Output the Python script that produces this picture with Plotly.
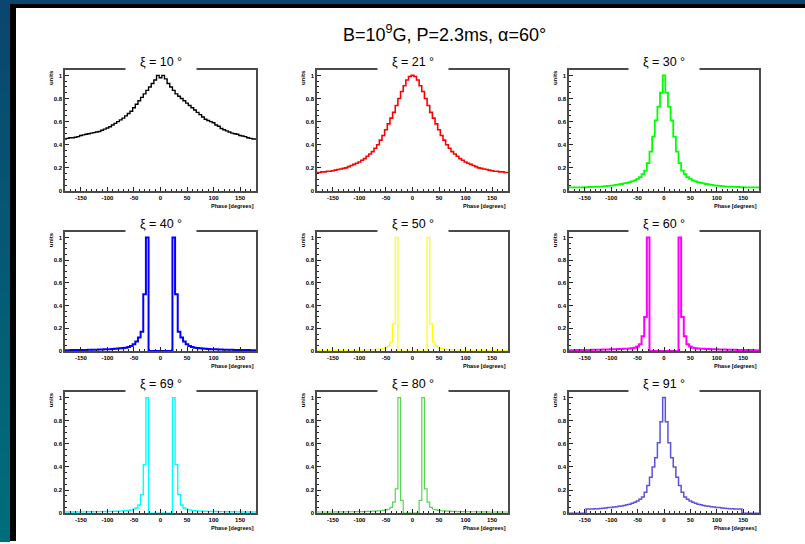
import plotly.graph_objects as go

W, H = 805, 544

# 73 phase bins, 5 degrees wide, centred on multiples of 5 degrees
PHASE_MIN, BIN_WIDTH = -182.5, 5.0

xi_labels = ["10", "21", "30", "40", "50", "60", "69", "80", "91"]
line_colors = ["#000000", "#ff0000", "#00ff00", "#0000ff", "#ffff00",
               "#ff00ff", "#00ffff", "#59d454", "#5954d8"]
line_widths = [1.4, 1.6, 1.8, 2.0, 1.2, 2.0, 1.4, 1.2, 1.5]

# normalised pulse profiles, bins from -180 to 180 deg
xi10 = [0.45, 0.455, 0.46, 0.46, 0.465, 0.47, 0.48, 0.485, 0.49, 0.495, 0.50, 0.505,
        0.51, 0.515, 0.525, 0.535, 0.545, 0.555, 0.57, 0.585, 0.60, 0.615, 0.63, 0.65,
        0.67, 0.69, 0.72, 0.75, 0.78, 0.81, 0.84, 0.87, 0.90, 0.93, 0.96, 1.0,
        0.98,
        1.0, 0.97, 0.93, 0.90, 0.87, 0.84, 0.82, 0.80, 0.78, 0.76, 0.74, 0.72,
        0.70, 0.68, 0.66, 0.64, 0.62, 0.61, 0.60, 0.59, 0.57, 0.56, 0.54, 0.53,
        0.52, 0.51, 0.50, 0.495, 0.49, 0.48, 0.475, 0.47, 0.46, 0.455, 0.45, 0.45]

xi21 = [0.16, 0.16, 0.165, 0.165, 0.17, 0.17, 0.175, 0.18, 0.185, 0.19, 0.195, 0.20,
        0.21, 0.22, 0.23, 0.24, 0.25, 0.265, 0.28, 0.30, 0.32, 0.34, 0.37, 0.40,
        0.44, 0.48, 0.53, 0.58, 0.63, 0.68, 0.74, 0.80, 0.86, 0.91, 0.96, 0.99,
        1.0,
        0.99, 0.96, 0.91, 0.86, 0.80, 0.74, 0.68, 0.63, 0.58, 0.53, 0.48, 0.44,
        0.40, 0.37, 0.34, 0.32, 0.30, 0.28, 0.265, 0.25, 0.24, 0.23, 0.22, 0.21,
        0.20, 0.195, 0.19, 0.185, 0.18, 0.175, 0.17, 0.17, 0.165, 0.165, 0.16, 0.16]

xi30 = [0.03, 0.03, 0.03, 0.03, 0.03, 0.03, 0.032, 0.033, 0.034, 0.035, 0.036, 0.037,
        0.038, 0.04, 0.042, 0.044, 0.046, 0.049, 0.052, 0.056, 0.06, 0.065, 0.07, 0.076,
        0.083, 0.092, 0.105, 0.12, 0.145, 0.175, 0.24, 0.34, 0.47, 0.61, 0.73, 0.85,
        1.0,
        0.85, 0.73, 0.61, 0.47, 0.34, 0.24, 0.175, 0.145, 0.12, 0.105, 0.092, 0.083,
        0.076, 0.07, 0.065, 0.06, 0.056, 0.052, 0.049, 0.046, 0.044, 0.042, 0.04, 0.038,
        0.037, 0.036, 0.035, 0.034, 0.033, 0.032, 0.03, 0.03, 0.03, 0.03, 0.03, 0.03]

xi40 = [0.008, 0.008, 0.008, 0.009, 0.009, 0.009, 0.01, 0.01, 0.01, 0.011, 0.011, 0.012,
        0.012, 0.013, 0.014, 0.015, 0.016, 0.017, 0.018, 0.02, 0.022, 0.024, 0.027, 0.03,
        0.035, 0.045, 0.06, 0.085, 0.12, 0.17, 0.50, 1.0, 0, 0, 0, 0,
        0,
        0, 0, 0, 0, 1.0, 0.50, 0.17, 0.12, 0.085, 0.06, 0.045, 0.035,
        0.03, 0.027, 0.024, 0.022, 0.02, 0.018, 0.017, 0.016, 0.015, 0.014, 0.013, 0.012,
        0.012, 0.011, 0.011, 0.01, 0.01, 0.01, 0.009, 0.009, 0.009, 0.008, 0.008, 0.008]

xi50 = [0.005, 0.005, 0.005, 0.005, 0.005, 0.005, 0.006, 0.006, 0.006, 0.006, 0.006, 0.006,
        0.007, 0.007, 0.007, 0.008, 0.008, 0.009, 0.009, 0.01, 0.011, 0.012, 0.013, 0.015,
        0.017, 0.022, 0.03, 0.045, 0.08, 0.24, 1.0, 0, 0, 0, 0, 0,
        0,
        0, 0, 0, 0, 0, 1.0, 0.24, 0.08, 0.045, 0.03, 0.022, 0.017,
        0.015, 0.013, 0.012, 0.011, 0.01, 0.009, 0.009, 0.008, 0.008, 0.007, 0.007, 0.007,
        0.006, 0.006, 0.006, 0.006, 0.006, 0.006, 0.005, 0.005, 0.005, 0.005, 0.005, 0.005]

xi60 = [0.008, 0.008, 0.008, 0.009, 0.009, 0.009, 0.01, 0.01, 0.01, 0.011, 0.011, 0.012,
        0.012, 0.013, 0.013, 0.014, 0.015, 0.016, 0.017, 0.018, 0.019, 0.02, 0.021, 0.022,
        0.025, 0.03, 0.04, 0.06, 0.13, 0.30, 1.0, 0, 0, 0, 0, 0,
        0,
        0, 0, 0, 0, 0, 1.0, 0.30, 0.13, 0.06, 0.04, 0.03, 0.025,
        0.022, 0.021, 0.02, 0.019, 0.018, 0.017, 0.016, 0.015, 0.014, 0.013, 0.013, 0.012,
        0.012, 0.011, 0.011, 0.01, 0.01, 0.01, 0.009, 0.009, 0.009, 0.008, 0.008, 0.008]

xi69 = [0.01, 0.01, 0.01, 0.01, 0.01, 0.01, 0.011, 0.011, 0.011, 0.012, 0.012, 0.012,
        0.013, 0.013, 0.013, 0.014, 0.014, 0.015, 0.015, 0.016, 0.017, 0.018, 0.019, 0.021,
        0.024, 0.028, 0.035, 0.045, 0.07, 0.16, 0.42, 1.0, 0, 0, 0, 0,
        0,
        0, 0, 0, 0, 1.0, 0.42, 0.16, 0.07, 0.045, 0.035, 0.028, 0.024,
        0.021, 0.019, 0.018, 0.017, 0.016, 0.015, 0.015, 0.014, 0.014, 0.013, 0.013, 0.013,
        0.012, 0.012, 0.012, 0.011, 0.011, 0.011, 0.01, 0.01, 0.01, 0.01, 0.01, 0.01]

xi80 = [0.01, 0.01, 0.01, 0.01, 0.01, 0.01, 0.01, 0.011, 0.011, 0.011, 0.011, 0.012,
        0.012, 0.012, 0.012, 0.013, 0.013, 0.013, 0.014, 0.015, 0.016, 0.017, 0.018, 0.019,
        0.021, 0.024, 0.028, 0.034, 0.05, 0.095, 0.21, 1.0, 0.11, 0, 0, 0,
        0,
        0, 0, 0.11, 1.0, 0.21, 0.095, 0.05, 0.034, 0.028, 0.024, 0.021, 0.019,
        0.018, 0.017, 0.016, 0.015, 0.014, 0.013, 0.013, 0.013, 0.012, 0.012, 0.012, 0.012,
        0.011, 0.011, 0.011, 0.011, 0.01, 0.01, 0.01, 0.01, 0.01, 0.01, 0.01, 0.01]

xi91 = [0, 0, 0, 0, 0, 0, 0, 0.036, 0.037, 0.037, 0.038, 0.039,
        0.04, 0.043, 0.045, 0.048, 0.05, 0.053, 0.056, 0.059, 0.063, 0.067, 0.072, 0.078,
        0.085, 0.095, 0.105, 0.12, 0.14, 0.18, 0.24, 0.31, 0.40, 0.48, 0.61, 0.79,
        1.0,
        0.79, 0.61, 0.48, 0.40, 0.31, 0.24, 0.18, 0.14, 0.12, 0.105, 0.095, 0.085,
        0.078, 0.072, 0.067, 0.063, 0.059, 0.056, 0.053, 0.05, 0.048, 0.045, 0.043, 0.04,
        0.039, 0.038, 0.037, 0.037, 0.036, 0, 0, 0, 0, 0, 0, 0]

profiles = [xi10, xi21, xi30, xi40, xi50, xi60, xi69, xi80, xi91]

x_tick_vals = [-150, -100, -50, 0, 50, 100, 150]
y_tick_vals = [0, 0.2, 0.4, 0.6, 0.8, 1.0]
y_tick_text = ["0", "0.2", "0.4", "0.6", "0.8", "1"]

# pad frames in pixels
COL_LEFT = [65, 317, 569]
COL_RIGHT = [256, 508, 759]
ROW_TOP = [70, 233, 394]
ROW_BOTTOM = [192, 353, 516]

FONT = "Liberation Sans, Arial, sans-serif"
FRAME = "#4a4a4a"
SMALL = 6


def step_outline(values):
    edges = [PHASE_MIN + BIN_WIDTH * i for i in range(len(values) + 1)]
    xs = [edges[0]] + edges[:-1] + [edges[-1], edges[-1]]
    ys = [0] + list(values) + [values[-1], 0]
    return xs, ys


fig = go.Figure()
layout = dict(
    width=W, height=H,
    margin=dict(l=0, r=0, t=0, b=0),
    paper_bgcolor="white", plot_bgcolor="white",
    showlegend=False,
    font=dict(family=FONT, color="black"),
)
annotations = []

for i, vals in enumerate(profiles):
    r, c = divmod(i, 3)
    n = "" if i == 0 else str(i + 1)
    xs, ys = step_outline(vals)
    fig.add_trace(go.Scatter(
        x=xs, y=ys, mode="lines", line_shape="hv",
        line=dict(color=line_colors[i], width=line_widths[i]),
        xaxis="x" + n, yaxis="y" + n, hoverinfo="skip",
    ))
    dx = [COL_LEFT[c] / W, COL_RIGHT[c] / W]
    dy = [1 - ROW_BOTTOM[r] / H, 1 - ROW_TOP[r] / H]
    layout["xaxis" + n] = dict(
        domain=dx, anchor="y" + n, range=[-180, 180],
        showline=True, mirror=True, linecolor=FRAME, linewidth=1.6,
        ticks="inside", ticklen=4, tickwidth=1, tickcolor="#222",
        tickvals=x_tick_vals,
        ticktext=["<b>%d</b>" % v for v in x_tick_vals],
        tickfont=dict(size=SMALL, family=FONT),
        minor=dict(ticks="inside", ticklen=2, tickcolor="#222", dtick=10),
        showgrid=False, zeroline=False, fixedrange=True,
    )
    layout["yaxis" + n] = dict(
        domain=dy, anchor="x" + n, range=[0, 1.05],
        showline=True, mirror=True, linecolor=FRAME, linewidth=1.6,
        ticks="inside", ticklen=4, tickwidth=1, tickcolor="#222",
        tickvals=y_tick_vals,
        ticktext=["<b>%s</b>" % t for t in y_tick_text],
        tickfont=dict(size=SMALL, family=FONT),
        minor=dict(ticks="inside", ticklen=2, tickcolor="#222", dtick=0.05),
        showgrid=False, zeroline=False, fixedrange=True,
    )
    cx = (COL_LEFT[c] + COL_RIGHT[c]) / 2 / W
    annotations.append(dict(
        text="ξ = %s °" % xi_labels[i],
        xref="paper", yref="paper", x=cx, y=1 - (ROW_TOP[r] + 2) / H,
        xanchor="center", yanchor="bottom", width=68, height=17,
        bgcolor="white", showarrow=False,
        font=dict(size=12.5, family=FONT, color="black"),
    ))
    annotations.append(dict(
        text="<b>Phase [degrees]</b>",
        xref="paper", yref="paper", x=COL_RIGHT[c] / W, y=1 - (ROW_BOTTOM[r] + 10) / H,
        xanchor="right", yanchor="top", showarrow=False,
        font=dict(size=5.5, family=FONT, color="black"),
    ))
    annotations.append(dict(
        text="<b>units</b>", textangle=-90,
        xref="paper", yref="paper", x=(COL_LEFT[c] - 14) / W, y=1 - (ROW_TOP[r] - 1) / H,
        xanchor="center", yanchor="top", showarrow=False,
        font=dict(size=SMALL, family=FONT, color="black"),
    ))

annotations.append(dict(
    text="B=10<sup>9</sup>G, P=2.3ms, α=60°",
    xref="paper", yref="paper", x=444 / W, y=1 - 34 / H,
    xanchor="center", yanchor="middle", showarrow=False,
    font=dict(size=18, family=FONT, color="black"),
))

# dark slide border: gradient strip on the left, band on top, black edge lines
shapes = []
top_rgb = (10, 70, 112)
bot_rgb = (0, 110, 122)
bands = 24
for k in range(bands):
    t = k / (bands - 1)
    col = "rgb(%d,%d,%d)" % tuple(round(a + (b - a) * t) for a, b in zip(top_rgb, bot_rgb))
    shapes.append(dict(type="rect", xref="paper", yref="paper", layer="above",
                       x0=0, x1=10 / W, y0=1 - (k + 1) / bands - 0.002, y1=1 - k / bands,
                       fillcolor=col, line=dict(width=0)))
shapes.append(dict(type="rect", xref="paper", yref="paper", layer="above",
                   x0=0, x1=1, y0=1 - 4 / H, y1=1,
                   fillcolor="rgb(10,70,112)", line=dict(width=0)))
shapes.append(dict(type="rect", xref="paper", yref="paper", layer="above",
                   x0=10 / W, x1=1, y0=1 - 8 / H, y1=1 - 4 / H,
                   fillcolor="black", line=dict(width=0)))
shapes.append(dict(type="rect", xref="paper", yref="paper", layer="above",
                   x0=10 / W, x1=16 / W, y0=0, y1=1 - 4 / H,
                   fillcolor="black", line=dict(width=0)))

layout["annotations"] = annotations
layout["shapes"] = shapes
fig.update_layout(**layout)
fig.write_html("out.html")
